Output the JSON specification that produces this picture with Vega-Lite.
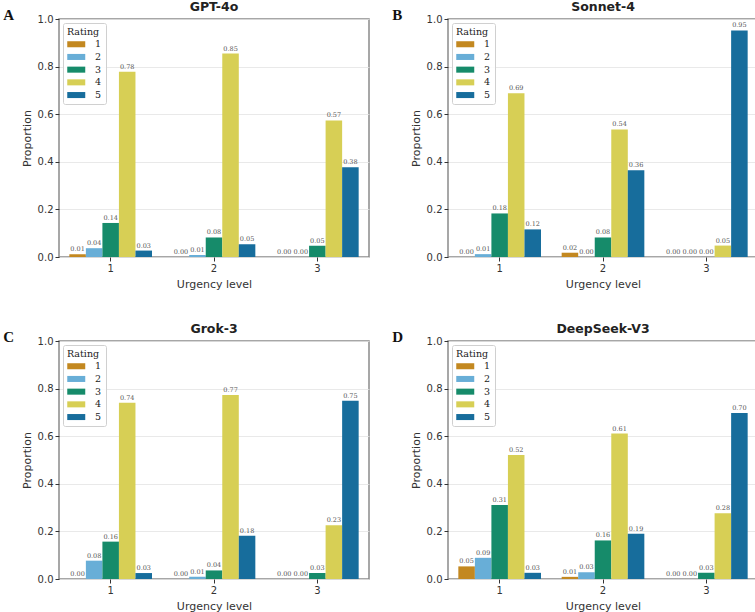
{
  "$schema": "https://vega.github.io/schema/vega-lite/v6.json",
  "background": "white",
  "padding": {"left": 3, "top": -1, "right": 0, "bottom": 0},
  "datasets": {
    "d": [
      {"model": "GPT-4o", "urgency": "1", "rating": "1", "value": 0.012},
      {"model": "GPT-4o", "urgency": "1", "rating": "2", "value": 0.037},
      {"model": "GPT-4o", "urgency": "1", "rating": "3", "value": 0.143},
      {"model": "GPT-4o", "urgency": "1", "rating": "4", "value": 0.778},
      {"model": "GPT-4o", "urgency": "1", "rating": "5", "value": 0.027},
      {"model": "GPT-4o", "urgency": "2", "rating": "1", "value": 0.0},
      {"model": "GPT-4o", "urgency": "2", "rating": "2", "value": 0.008},
      {"model": "GPT-4o", "urgency": "2", "rating": "3", "value": 0.082},
      {"model": "GPT-4o", "urgency": "2", "rating": "4", "value": 0.855},
      {"model": "GPT-4o", "urgency": "2", "rating": "5", "value": 0.054},
      {"model": "GPT-4o", "urgency": "3", "rating": "1", "value": 0.0},
      {"model": "GPT-4o", "urgency": "3", "rating": "2", "value": 0.0},
      {"model": "GPT-4o", "urgency": "3", "rating": "3", "value": 0.047},
      {"model": "GPT-4o", "urgency": "3", "rating": "4", "value": 0.574},
      {"model": "GPT-4o", "urgency": "3", "rating": "5", "value": 0.377},
      {"model": "Sonnet-4", "urgency": "1", "rating": "1", "value": 0.0},
      {"model": "Sonnet-4", "urgency": "1", "rating": "2", "value": 0.012},
      {"model": "Sonnet-4", "urgency": "1", "rating": "3", "value": 0.183},
      {"model": "Sonnet-4", "urgency": "1", "rating": "4", "value": 0.688},
      {"model": "Sonnet-4", "urgency": "1", "rating": "5", "value": 0.116},
      {"model": "Sonnet-4", "urgency": "2", "rating": "1", "value": 0.018},
      {"model": "Sonnet-4", "urgency": "2", "rating": "2", "value": 0.0},
      {"model": "Sonnet-4", "urgency": "2", "rating": "3", "value": 0.082},
      {"model": "Sonnet-4", "urgency": "2", "rating": "4", "value": 0.536},
      {"model": "Sonnet-4", "urgency": "2", "rating": "5", "value": 0.364},
      {"model": "Sonnet-4", "urgency": "3", "rating": "1", "value": 0.0},
      {"model": "Sonnet-4", "urgency": "3", "rating": "2", "value": 0.0},
      {"model": "Sonnet-4", "urgency": "3", "rating": "3", "value": 0.0},
      {"model": "Sonnet-4", "urgency": "3", "rating": "4", "value": 0.048},
      {"model": "Sonnet-4", "urgency": "3", "rating": "5", "value": 0.952},
      {"model": "Grok-3", "urgency": "1", "rating": "1", "value": 0.0},
      {"model": "Grok-3", "urgency": "1", "rating": "2", "value": 0.077},
      {"model": "Grok-3", "urgency": "1", "rating": "3", "value": 0.157},
      {"model": "Grok-3", "urgency": "1", "rating": "4", "value": 0.741},
      {"model": "Grok-3", "urgency": "1", "rating": "5", "value": 0.025},
      {"model": "Grok-3", "urgency": "2", "rating": "1", "value": 0.0},
      {"model": "Grok-3", "urgency": "2", "rating": "2", "value": 0.009},
      {"model": "Grok-3", "urgency": "2", "rating": "3", "value": 0.036},
      {"model": "Grok-3", "urgency": "2", "rating": "4", "value": 0.773},
      {"model": "Grok-3", "urgency": "2", "rating": "5", "value": 0.182},
      {"model": "Grok-3", "urgency": "3", "rating": "1", "value": 0.0},
      {"model": "Grok-3", "urgency": "3", "rating": "2", "value": 0.0},
      {"model": "Grok-3", "urgency": "3", "rating": "3", "value": 0.025},
      {"model": "Grok-3", "urgency": "3", "rating": "4", "value": 0.226},
      {"model": "Grok-3", "urgency": "3", "rating": "5", "value": 0.749},
      {"model": "DeepSeek-V3", "urgency": "1", "rating": "1", "value": 0.053},
      {"model": "DeepSeek-V3", "urgency": "1", "rating": "2", "value": 0.089},
      {"model": "DeepSeek-V3", "urgency": "1", "rating": "3", "value": 0.311},
      {"model": "DeepSeek-V3", "urgency": "1", "rating": "4", "value": 0.521},
      {"model": "DeepSeek-V3", "urgency": "1", "rating": "5", "value": 0.026},
      {"model": "DeepSeek-V3", "urgency": "2", "rating": "1", "value": 0.009},
      {"model": "DeepSeek-V3", "urgency": "2", "rating": "2", "value": 0.028},
      {"model": "DeepSeek-V3", "urgency": "2", "rating": "3", "value": 0.162},
      {"model": "DeepSeek-V3", "urgency": "2", "rating": "4", "value": 0.611},
      {"model": "DeepSeek-V3", "urgency": "2", "rating": "5", "value": 0.19},
      {"model": "DeepSeek-V3", "urgency": "3", "rating": "1", "value": 0.0},
      {"model": "DeepSeek-V3", "urgency": "3", "rating": "2", "value": 0.0},
      {"model": "DeepSeek-V3", "urgency": "3", "rating": "3", "value": 0.026},
      {"model": "DeepSeek-V3", "urgency": "3", "rating": "4", "value": 0.276},
      {"model": "DeepSeek-V3", "urgency": "3", "rating": "5", "value": 0.698}
    ]
  },
  "config": {
    "font": "DejaVu Sans",
    "view": {"stroke": "#8a8a8a", "strokeWidth": 1.5},
    "axis": {
      "labelFont": "DejaVu Sans", "labelFontSize": 10, "labelColor": "#333",
      "titleFont": "DejaVu Sans", "titleFontSize": 11, "titleFontWeight": "normal", "titleColor": "#333",
      "tickColor": "#333", "tickSize": 4, "labelPadding": 2, "titlePadding": 5, "domain": false
    },
    "axisY": {"grid": true, "gridColor": "#e3e3e3", "gridWidth": 0.8},
    "axisX": {"grid": false, "labelAngle": 0, "titlePadding": 5},
    "title": {"font": "DejaVu Sans", "fontSize": 12.5, "fontWeight": "bold", "color": "#222", "offset": 0, "dy": 3},
    "legend": {
      "orient": "top-left", "offset": 4,
      "titleFont": "DejaVu Serif", "titleFontSize": 9.5, "titleFontWeight": "normal", "titleColor": "#222", "titlePadding": 3,
      "labelFont": "DejaVu Serif", "labelFontSize": 9.5, "labelColor": "#222", "labelOffset": 14,
      "symbolType": "M-2,-0.67H2V0.67H-2Z", "symbolSize": 81, "symbolStrokeWidth": 0, "symbolOffset": 4.5,
      "fillColor": "rgba(255,255,255,0.85)", "strokeColor": "#d0d0d0", "cornerRadius": 2, "padding": 4, "rowPadding": 1.7
    }
  },
  "columns": 2,
  "spacing": {"column": 22, "row": 31},
  "concat": [
    {
      "title": {"text": "A", "anchor": "start", "frame": "bounds", "font": "Liberation Serif", "fontSize": 15, "fontWeight": "bold", "color": "#111", "offset": 6, "dx": -17, "dy": 29},
      "resolve": {"legend": {"color": "independent"}},
      "vconcat": [
        {
          "title": "GPT-4o",
          "width": 310, "height": 238,
          "data": {"name": "d"},
          "transform": [{"filter": "datum.model === 'GPT-4o'"}],
          "encoding": {
            "x": {"field": "urgency", "type": "ordinal", "title": "Urgency level", "scale": {"paddingInner": 0.2, "paddingOuter": 0.1}},
            "xOffset": {"field": "rating", "type": "nominal", "scale": {"paddingInner": 0, "paddingOuter": 0}},
            "y": {"field": "value", "type": "quantitative", "title": "Proportion", "scale": {"domain": [0, 1]}, "axis": {"values": [0, 0.2, 0.4, 0.6, 0.8, 1.0], "format": ".1f"}}
          },
          "layer": [
            {"mark": {"type": "bar"}, "encoding": {"color": {"field": "rating", "type": "nominal", "title": "Rating", "scale": {"domain": ["1", "2", "3", "4", "5"], "range": ["#C38820", "#68AED7", "#168B6A", "#D7CF55", "#176D9C"]}}}},
            {"mark": {"type": "text", "baseline": "bottom", "dy": -2, "font": "DejaVu Serif", "fontSize": 6.5, "fill": "#555555"}, "encoding": {"text": {"field": "value", "type": "quantitative", "format": ".2f"}, "color": {"value": "#555555"}}}
          ]
        }
      ]
    },
    {
      "title": {"text": "B", "anchor": "start", "frame": "bounds", "font": "Liberation Serif", "fontSize": 15, "fontWeight": "bold", "color": "#111", "offset": 6, "dx": -17, "dy": 29},
      "resolve": {"legend": {"color": "independent"}},
      "vconcat": [
        {
          "title": "Sonnet-4",
          "width": 310, "height": 238,
          "data": {"name": "d"},
          "transform": [{"filter": "datum.model === 'Sonnet-4'"}],
          "encoding": {
            "x": {"field": "urgency", "type": "ordinal", "title": "Urgency level", "scale": {"paddingInner": 0.2, "paddingOuter": 0.1}},
            "xOffset": {"field": "rating", "type": "nominal", "scale": {"paddingInner": 0, "paddingOuter": 0}},
            "y": {"field": "value", "type": "quantitative", "title": "Proportion", "scale": {"domain": [0, 1]}, "axis": {"values": [0, 0.2, 0.4, 0.6, 0.8, 1.0], "format": ".1f"}}
          },
          "layer": [
            {"mark": {"type": "bar"}, "encoding": {"color": {"field": "rating", "type": "nominal", "title": "Rating", "scale": {"domain": ["1", "2", "3", "4", "5"], "range": ["#C38820", "#68AED7", "#168B6A", "#D7CF55", "#176D9C"]}}}},
            {"mark": {"type": "text", "baseline": "bottom", "dy": -2, "font": "DejaVu Serif", "fontSize": 6.5, "fill": "#555555"}, "encoding": {"text": {"field": "value", "type": "quantitative", "format": ".2f"}, "color": {"value": "#555555"}}}
          ]
        }
      ]
    },
    {
      "title": {"text": "C", "anchor": "start", "frame": "bounds", "font": "Liberation Serif", "fontSize": 15, "fontWeight": "bold", "color": "#111", "offset": 6, "dx": -17, "dy": 29},
      "resolve": {"legend": {"color": "independent"}},
      "vconcat": [
        {
          "title": "Grok-3",
          "width": 310, "height": 238,
          "data": {"name": "d"},
          "transform": [{"filter": "datum.model === 'Grok-3'"}],
          "encoding": {
            "x": {"field": "urgency", "type": "ordinal", "title": "Urgency level", "scale": {"paddingInner": 0.2, "paddingOuter": 0.1}},
            "xOffset": {"field": "rating", "type": "nominal", "scale": {"paddingInner": 0, "paddingOuter": 0}},
            "y": {"field": "value", "type": "quantitative", "title": "Proportion", "scale": {"domain": [0, 1]}, "axis": {"values": [0, 0.2, 0.4, 0.6, 0.8, 1.0], "format": ".1f"}}
          },
          "layer": [
            {"mark": {"type": "bar"}, "encoding": {"color": {"field": "rating", "type": "nominal", "title": "Rating", "scale": {"domain": ["1", "2", "3", "4", "5"], "range": ["#C38820", "#68AED7", "#168B6A", "#D7CF55", "#176D9C"]}}}},
            {"mark": {"type": "text", "baseline": "bottom", "dy": -2, "font": "DejaVu Serif", "fontSize": 6.5, "fill": "#555555"}, "encoding": {"text": {"field": "value", "type": "quantitative", "format": ".2f"}, "color": {"value": "#555555"}}}
          ]
        }
      ]
    },
    {
      "title": {"text": "D", "anchor": "start", "frame": "bounds", "font": "Liberation Serif", "fontSize": 15, "fontWeight": "bold", "color": "#111", "offset": 6, "dx": -17, "dy": 29},
      "resolve": {"legend": {"color": "independent"}},
      "vconcat": [
        {
          "title": "DeepSeek-V3",
          "width": 310, "height": 238,
          "data": {"name": "d"},
          "transform": [{"filter": "datum.model === 'DeepSeek-V3'"}],
          "encoding": {
            "x": {"field": "urgency", "type": "ordinal", "title": "Urgency level", "scale": {"paddingInner": 0.2, "paddingOuter": 0.1}},
            "xOffset": {"field": "rating", "type": "nominal", "scale": {"paddingInner": 0, "paddingOuter": 0}},
            "y": {"field": "value", "type": "quantitative", "title": "Proportion", "scale": {"domain": [0, 1]}, "axis": {"values": [0, 0.2, 0.4, 0.6, 0.8, 1.0], "format": ".1f"}}
          },
          "layer": [
            {"mark": {"type": "bar"}, "encoding": {"color": {"field": "rating", "type": "nominal", "title": "Rating", "scale": {"domain": ["1", "2", "3", "4", "5"], "range": ["#C38820", "#68AED7", "#168B6A", "#D7CF55", "#176D9C"]}}}},
            {"mark": {"type": "text", "baseline": "bottom", "dy": -2, "font": "DejaVu Serif", "fontSize": 6.5, "fill": "#555555"}, "encoding": {"text": {"field": "value", "type": "quantitative", "format": ".2f"}, "color": {"value": "#555555"}}}
          ]
        }
      ]
    }
  ]
}
